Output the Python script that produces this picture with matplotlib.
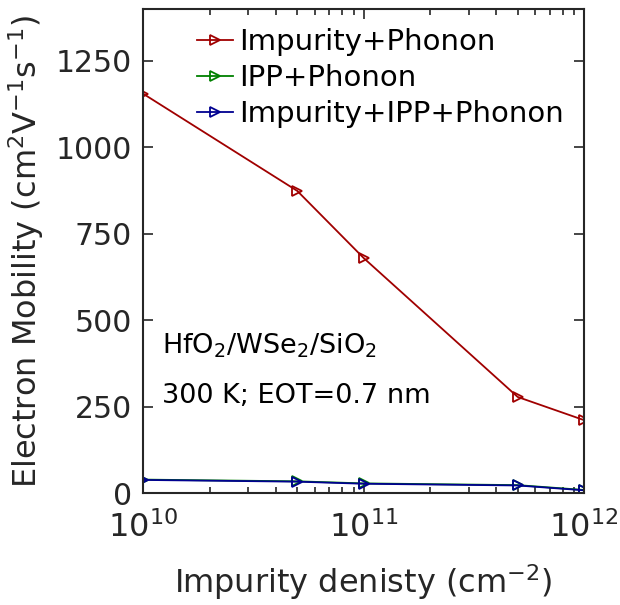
import matplotlib
matplotlib.use("Agg")
import matplotlib.pyplot as plt
from matplotlib.ticker import LogLocator, NullFormatter

plt.rcParams['font.family'] = ['DejaVu Sans']
plt.rcParams['mathtext.fontset'] = 'dejavusans'

density = [1e10, 5e10, 1e11, 5e11, 1e12]
imp_phonon = [1155, 874, 680, 278, 211]
ipp_phonon = [39, 34, 28, 23, 9]
imp_ipp_phonon = [38, 33, 27, 22, 8]
yticks = [0, 250, 500, 750, 1000, 1250]
xticks = [1e10, 1e11, 1e12]
xticklabels = ['$10^{10}$', '$10^{11}$', '$10^{12}$']

fig = plt.figure(figsize=(6.2, 6.05), dpi=100)
ax = fig.add_axes([0.231, 0.185, 0.711, 0.800])

ms = 7.5
ax.plot(density, imp_phonon, '->', color='#A00000', mfc='none', ms=ms, lw=1.3, mew=1.3,
        label='Impurity+Phonon')
ax.plot(density, ipp_phonon, '->', color='#008000', mfc='none', ms=ms, lw=1.3, mew=1.3,
        label='IPP+Phonon')
ax.plot(density, imp_ipp_phonon, '->', color='#000090', mfc='none', ms=ms, lw=1.3, mew=1.3,
        label='Impurity+IPP+Phonon')

ax.set_xscale('log')
ax.set_xlim(1e10, 1e12)
ax.set_ylim(0, 1400)
ax.set_yticks(yticks)
ax.set_xticks(xticks)
ax.set_xticklabels(xticklabels)
ax.xaxis.set_minor_locator(LogLocator(base=10, subs=range(2, 10)))
ax.xaxis.set_minor_formatter(NullFormatter())

dark = '#262626'
for s in ax.spines.values():
    s.set_color(dark)
    s.set_linewidth(1.5)
ax.tick_params(which='both', direction='in', top=True, right=True, colors=dark, width=1.2)
ax.tick_params(which='major', length=7)
ax.tick_params(which='minor', length=4)
ax.tick_params(axis='y', labelsize=21.5, pad=8)
ax.tick_params(axis='x', labelsize=23, pad=13)

ax.set_xlabel('Impurity denisty (cm$^{-2}$)', fontsize=23, color=dark, labelpad=13)
ax.set_ylabel('Electron Mobility (cm$^{2}$V$^{-1}$s$^{-1}$)', fontsize=23, color=dark, labelpad=7)

ax.text(0.043, 0.289, 'HfO$_2$/WSe$_2$/SiO$_2$', transform=ax.transAxes, fontsize=19.5,
        color='black', va='baseline')
ax.text(0.043, 0.186, '300 K; EOT=0.7 nm', transform=ax.transAxes, fontsize=19.5,
        color='black', va='baseline')

leg = ax.legend(loc='upper left', bbox_to_anchor=(0.122, 0.96), frameon=False, fontsize=21,
                handlelength=1.25, handletextpad=0.2, labelspacing=0.27, borderaxespad=0,
                borderpad=0)

fig.savefig('out.png', dpi=100)
